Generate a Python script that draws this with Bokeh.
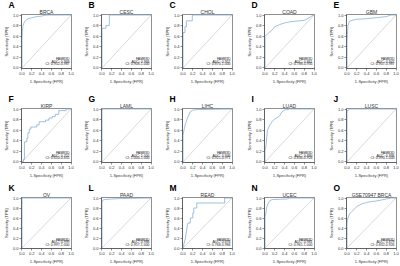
from bokeh.plotting import figure
from bokeh.layouts import column, row
from bokeh.models import Label, Title, Range1d, FixedTicker, PrintfTickFormatter
from bokeh.embed import file_html
from bokeh.resources import INLINE

panel_letters = ["A", "B", "C", "D", "E", "F", "G", "H", "I", "J", "K", "L", "M", "N", "O"]
panel_titles = ["BRCA", "CESC", "CHOL", "COAD", "GBM", "KIRP", "LAML", "LIHC", "LUAD", "LUSC",
                "OV", "PAAD", "READ", "UCEC", "GSE70947 BRCA"]
gene = "FAM83D"
auc = ["0.969", "0.966", "0.957", "0.861", "0.947", "0.752", "1.000", "0.946", "0.880", "0.996",
       "0.999", "0.986", "0.876", "0.981", "0.879"]
ci_low = ["0.952", "0.908", "0.870", "0.788", "0.907", "0.650", "1.000", "0.921", "0.836", "0.990",
          "0.997", "0.957", "0.768", "0.961", "0.832"]
ci_high = ["0.987", "1.000", "1.000", "0.935", "0.987", "0.855", "1.000", "0.971", "0.924", "1.000",
           "1.000", "1.000", "0.984", "1.000", "0.926"]

brca_fpr = [0, 0, 0.01, 0.02, 0.05, 0.1, 0.2, 0.3, 0.4, 0.5, 1]
brca_tpr = [0, 0.55, 0.7, 0.8, 0.87, 0.92, 0.95, 0.97, 0.98, 1.0, 1]
cesc_fpr = [0, 0, 0.08, 0.08, 0.15, 0.15, 1]
cesc_tpr = [0, 0.75, 0.75, 0.8, 0.8, 1.0, 1]
chol_fpr = [0, 0, 0.04, 0.04, 0.07, 0.07, 0.19, 0.19, 1]
chol_tpr = [0, 0.67, 0.67, 0.78, 0.78, 0.89, 0.89, 1.0, 1]
coad_fpr = [0, 0, 0.02, 0.05, 0.1, 0.15, 0.2, 0.3, 0.4, 0.5, 0.6, 0.7, 0.8, 0.85, 0.9, 0.95, 1]
coad_tpr = [0, 0.6, 0.62, 0.64, 0.68, 0.72, 0.78, 0.82, 0.85, 0.87, 0.88, 0.89, 0.9, 0.92, 0.95, 0.98, 1]
gbm_fpr = [0, 0, 0.02, 0.05, 0.1, 0.2, 0.4, 0.6, 0.8, 0.9, 1]
gbm_tpr = [0, 0.5, 0.8, 0.88, 0.9, 0.92, 0.93, 0.95, 0.97, 1.0, 1]
kirp_fpr = [0, 0.03, 0.03, 0.05, 0.05, 0.1, 0.1, 0.12, 0.12, 0.15, 0.15, 0.18, 0.18, 0.3, 0.3, 0.35,
            0.35, 0.48, 0.48, 0.55, 0.55, 0.62, 0.62, 0.68, 0.68, 0.75, 0.75, 0.9, 0.9, 1]
kirp_tpr = [0, 0, 0.05, 0.05, 0.38, 0.38, 0.45, 0.45, 0.55, 0.55, 0.62, 0.62, 0.66, 0.66, 0.7, 0.7,
            0.76, 0.76, 0.79, 0.79, 0.83, 0.83, 0.86, 0.86, 0.9, 0.9, 0.97, 0.97, 1.0, 1]
laml_fpr = [0, 0, 1]
laml_tpr = [0, 1.0, 1]
lihc_fpr = [0, 0, 0.02, 0.05, 0.08, 0.1, 0.15, 0.2, 0.3, 1]
lihc_tpr = [0, 0.5, 0.6, 0.72, 0.8, 0.85, 0.95, 0.98, 0.99, 1]
luad_fpr = [0, 0, 0.02, 0.05, 0.1, 0.15, 0.2, 0.3, 0.35, 0.4, 0.5, 1]
luad_tpr = [0, 0.2, 0.3, 0.6, 0.7, 0.77, 0.81, 0.87, 0.95, 0.98, 1.0, 1]
lusc_fpr = [0, 0, 0.03, 0.05, 1]
lusc_tpr = [0, 0.97, 0.97, 1.0, 1]
ov_fpr = [0, 0, 0.01, 1]
ov_tpr = [0, 0.99, 1.0, 1]
paad_fpr = [0, 0, 0.02, 0.05, 0.2, 0.4, 1]
paad_tpr = [0, 0.92, 0.96, 0.97, 0.98, 0.99, 1]
read_fpr = [0, 0.05, 0.08, 0.1, 0.15, 0.15, 0.2, 0.2, 0.22, 0.22, 0.28, 0.28, 0.85, 0.85, 1]
read_tpr = [0, 0.2, 0.4, 0.5, 0.5, 0.6, 0.6, 0.7, 0.7, 0.8, 0.8, 0.9, 0.9, 1.0, 1]
ucec_fpr = [0, 0, 0.02, 0.03, 0.05, 0.07, 0.1, 0.15, 0.45, 0.5, 1]
ucec_tpr = [0, 0.62, 0.7, 0.8, 0.86, 0.9, 0.95, 0.97, 0.98, 1.0, 1]
gse_fpr = [0, 0, 0.02, 0.05, 0.1, 0.15, 0.2, 0.3, 0.4, 0.5, 0.6, 0.7, 0.8, 0.9, 1]
gse_tpr = [0, 0.5, 0.6, 0.68, 0.73, 0.78, 0.83, 0.88, 0.91, 0.93, 0.94, 0.96, 0.98, 1.0, 1]

curves = [(brca_fpr, brca_tpr), (cesc_fpr, cesc_tpr), (chol_fpr, chol_tpr), (coad_fpr, coad_tpr),
          (gbm_fpr, gbm_tpr), (kirp_fpr, kirp_tpr), (laml_fpr, laml_tpr), (lihc_fpr, lihc_tpr),
          (luad_fpr, luad_tpr), (lusc_fpr, lusc_tpr), (ov_fpr, ov_tpr), (paad_fpr, paad_tpr),
          (read_fpr, read_tpr), (ucec_fpr, ucec_tpr), (gse_fpr, gse_tpr)]
ticks = [0, 0.2, 0.4, 0.6, 0.8, 1.0]

FONT = "Liberation Sans"
CURVE = "#86b1da"
DIAG = "#c9c9c9"
EDGE = "#444444"

col_widths = [80, 81, 82, 82, 75]
col_right = [9, 10, 11, 11, 4]
row_heights = [90, 90, 86]
row_top = [10, 18, 17]
row_bottom = [22, 14, 11]

rows = []
for r in range(3):
    figs = []
    for c in range(5):
        i = r * 5 + c
        p = figure(width=col_widths[c], height=row_heights[r], output_backend="svg",
                   toolbar_location=None, x_range=Range1d(-0.01, 1.01), y_range=Range1d(-0.01, 1.01),
                   min_border_left=14, min_border_right=col_right[c],
                   min_border_top=row_top[r], min_border_bottom=row_bottom[r],
                   title=panel_letters[i])
        p.title.align = "left"
        p.title.offset = -13
        p.title.standoff = -6
        p.title.text_font = FONT
        p.title.text_font_size = "8.5px"
        p.title.text_font_style = "bold"
        p.title.text_color = "black"
        name = Title(text=panel_titles[i], align="center", standoff=0,
                     text_font=FONT, text_font_size="5px", text_font_style="normal",
                     text_color="#333333")
        p.add_layout(name, "above")
        p.xgrid.visible = False
        p.ygrid.visible = False
        p.outline_line_color = EDGE
        p.outline_line_width = 0.6
        p.background_fill_color = "white"
        p.border_fill_color = "white"
        for ax in (p.xaxis[0], p.yaxis[0]):
            ax.ticker = FixedTicker(ticks=ticks)
            ax.formatter = PrintfTickFormatter(format="%.1f")
            ax.major_label_text_font = FONT
            ax.major_label_text_font_size = "4px"
            ax.major_label_text_color = "#333333"
            ax.axis_label_text_font = FONT
            ax.axis_label_text_font_size = "4px"
            ax.axis_label_text_font_style = "normal"
            ax.axis_label_text_color = "#333333"
            ax.major_tick_in = 0
            ax.major_tick_out = 2
            ax.minor_tick_in = 0
            ax.minor_tick_out = 0
            ax.major_label_standoff = 1
            ax.axis_label_standoff = 1
            ax.axis_line_color = EDGE
            ax.axis_line_width = 0.6
            ax.major_tick_line_color = EDGE
            ax.major_tick_line_width = 0.6
        p.xaxis.axis_label = "1-Specificity (FPR)"
        p.yaxis.axis_label = "Sensitivity (TPR)"
        p.line([0, 1], [0, 1], line_color=DIAG, line_width=0.7)
        fx, ty = curves[i]
        p.line(fx, ty, line_color=CURVE, line_width=0.8)
        lines = [gene, "AUC: " + auc[i], "CI: " + ci_low[i] + "-" + ci_high[i]]
        for k, txt in enumerate(lines):
            p.add_layout(Label(x=0.97, y=0.17 - 0.05 * k, text=txt, text_align="right",
                               text_baseline="middle", text_font=FONT, text_font_size="3.5px",
                               text_color="#222222"))
        figs.append(p)
    rows.append(row(*figs))

layout = column(*rows)
open("out.html", "w").write(file_html(layout, INLINE))
